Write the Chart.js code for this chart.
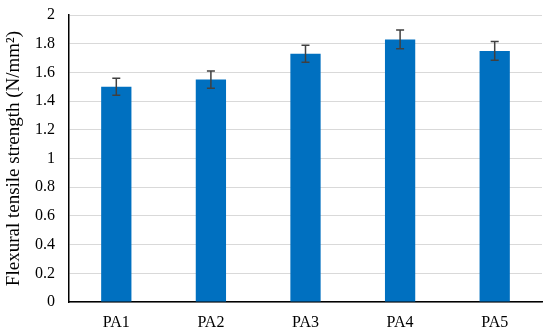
<!DOCTYPE html>
<html>
<head>
<meta charset="utf-8">
<script src="https://cdn.jsdelivr.net/npm/chart.js@4/dist/chart.umd.min.js"></script>
<style>
html,body{margin:0;padding:0;background:#fff;}
#wrap{width:550px;height:336px;}
</style>
</head>
<body>
<div id="wrap"><canvas id="c" width="550" height="336"></canvas></div>
<script>
const categories = ["PA1", "PA2", "PA3", "PA4", "PA5"];
const strength = [1.50, 1.55, 1.73, 1.83, 1.75];
const errors = [0.06, 0.06, 0.06, 0.065, 0.065];
const yTicks = [0, 0.2, 0.4, 0.6, 0.8, 1, 1.2, 1.4, 1.6, 1.8, 2];

const errorBarPlugin = {
  id: 'errorBars',
  afterDatasetsDraw(chart) {
    const ctx = chart.ctx;
    const meta = chart.getDatasetMeta(0);
    const ys = chart.scales.y;
    ctx.save();
    ctx.strokeStyle = '#404040';
    ctx.lineWidth = 1.5;
    meta.data.forEach((bar, i) => {
      const x = bar.x;
      const top = ys.getPixelForValue(strength[i] + errors[i]);
      const bot = ys.getPixelForValue(strength[i] - errors[i]);
      ctx.beginPath();
      ctx.moveTo(x, top); ctx.lineTo(x, bot);
      ctx.moveTo(x - 4, top); ctx.lineTo(x + 4, top);
      ctx.moveTo(x - 4, bot); ctx.lineTo(x + 4, bot);
      ctx.stroke();
    });
    ctx.restore();
  }
};

const tickFont = { family: "'Liberation Serif', 'DejaVu Serif', serif", size: 16 };
const titleFont = { family: "'Liberation Serif', 'DejaVu Serif', serif", size: 19 };

new Chart(document.getElementById('c'), {
  type: 'bar',
  data: {
    labels: categories,
    datasets: [{
      data: strength,
      backgroundColor: '#0070C0',
      borderWidth: 0,
      categoryPercentage: 1,
      barPercentage: 0.32
    }]
  },
  options: {
    responsive: false,
    animation: false,
    devicePixelRatio: 1,
    layout: { padding: { top: 15, right: 8, left: 0, bottom: 0 } },
    plugins: { legend: { display: false }, tooltip: { enabled: false } },
    scales: {
      x: {
        grid: { display: false, drawTicks: false },
        border: { color: '#000', width: 1.5 },
        ticks: { color: '#000', font: tickFont, padding: 11 },
        afterFit(s) { s.height = 34; }
      },
      y: {
        min: 0, max: 2,
        afterBuildTicks(s) { s.ticks = yTicks.map(v => ({ value: v })); },
        grid: { color: '#d9d9d9', lineWidth: 1, drawTicks: false },
        border: { color: '#000', width: 1.5 },
        ticks: { color: '#000', font: tickFont, padding: 14, callback: v => String(v) },
        title: { display: true, text: 'Flexural tensile strength (N/mm²)', color: '#000', font: titleFont, padding: { top: 3, bottom: 4 } },
        afterFit(s) { s.width = 69; s.paddingTop = 0; s.paddingBottom = 0; }
      }
    }
  },
  plugins: [errorBarPlugin]
});
</script>
</body>
</html>
